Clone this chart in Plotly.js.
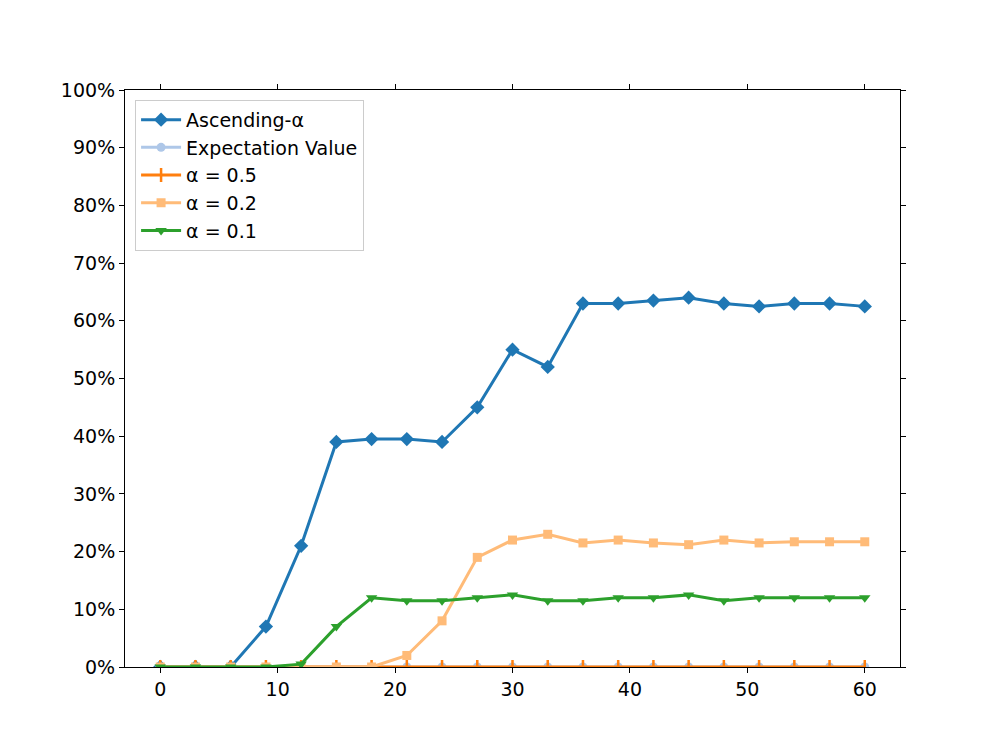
<!DOCTYPE html>
<html>
<head>
<meta charset="utf-8">
<script src="https://cdn.plot.ly/plotly-3.0.1.min.js"></script>
<style>body{margin:0;padding:0;background:#fff;} #chart{width:1000px;height:750px;}</style>
</head>
<body>
<div id="chart"></div>
<script>
const steps = [0,3,6,9,12,15,18,21,24,27,30,33,36,39,42,45,48,51,54,57,60];
const ascendingAlpha = [0,0,0,7,21,39,39.5,39.5,39,45,55,52,63,63,63.5,64,63,62.5,63,63,62.5];
const expectationValue = [0,0,0,0,0,0,0,0,0,0,0,0,0,0,0,0,0,0,0,0,0];
const alpha05 = [0,0,0,0,0,0,0,0,0,0,0,0,0,0,0,0,0,0,0,0,0];
const alpha02 = [0,0,0,0,0,0,0,2,8,19,22,23,21.5,22,21.5,21.2,22,21.5,21.7,21.7,21.7];
const alpha01 = [0,0,0,0,0.5,7,12,11.5,11.5,12,12.5,11.5,11.5,12,12,12.5,11.5,12,12,12,12];
const yTickVals = [0,10,20,30,40,50,60,70,80,90,100];
const yTickText = ["0%","10%","20%","30%","40%","50%","60%","70%","80%","90%","100%"];

function tr(name, y, color, symbol, size, extra) {
  const t = {
    x: steps, y: y, name: name, type: 'scatter', mode: 'lines+markers',
    line: {color: color, width: 3},
    marker: {color: color, symbol: symbol, size: size}
  };
  return Object.assign(t, extra || {});
}
const data = [
  tr('Ascending-α', ascendingAlpha, '#1f77b4', 'diamond', 11),
  tr('Expectation Value', expectationValue, '#aec7e8', 'circle', 9),
  tr('α = 0.5', alpha05, '#ff7f0e', 'line-ns', 9, {marker:{color:'#ff7f0e', symbol:'line-ns', size:10, line:{color:'#ff7f0e', width:2.5}}}),
  tr('α = 0.2', alpha02, '#ffbb78', 'square', 9),
  tr('α = 0.1', alpha01, '#2ca02c', 'triangle-down', 10)
];
const font = {family: 'DejaVu Sans, sans-serif', size: 19, color: '#000'};
const layout = {
  width: 1000, height: 750,
  margin: {l: 125, r: 100, t: 90, b: 83, pad: 0},
  paper_bgcolor: '#fff', plot_bgcolor: '#fff',
  font: font,
  showlegend: true,
  legend: {
    x: 0.013, y: 0.983, xanchor: 'left', yanchor: 'top',
    bgcolor: 'rgba(255,255,255,0.8)', bordercolor: '#cccccc', borderwidth: 1,
    font: {family: 'DejaVu Sans, sans-serif', size: 19, color: '#000'},
    tracegroupgap: 0, itemwidth: 40
  },
  xaxis: {
    range: [-3, 63], tickvals: [0,10,20,30,40,50,60],
    showgrid: false, zeroline: false, showline: true, linecolor: '#000', linewidth: 1,
    mirror: 'ticks', ticks: 'outside', ticklen: 5, tickwidth: 1, tickcolor: '#000',
    tickfont: font
  },
  yaxis: {
    range: [0, 100], tickvals: yTickVals, ticktext: yTickText,
    showgrid: false, zeroline: false, showline: true, linecolor: '#000', linewidth: 1,
    mirror: 'ticks', ticks: 'outside', ticklen: 5, tickwidth: 1, tickcolor: '#000',
    tickfont: font
  }
};
Plotly.newPlot('chart', data, layout, {displayModeBar: false, staticPlot: true});
</script>
</body>
</html>
